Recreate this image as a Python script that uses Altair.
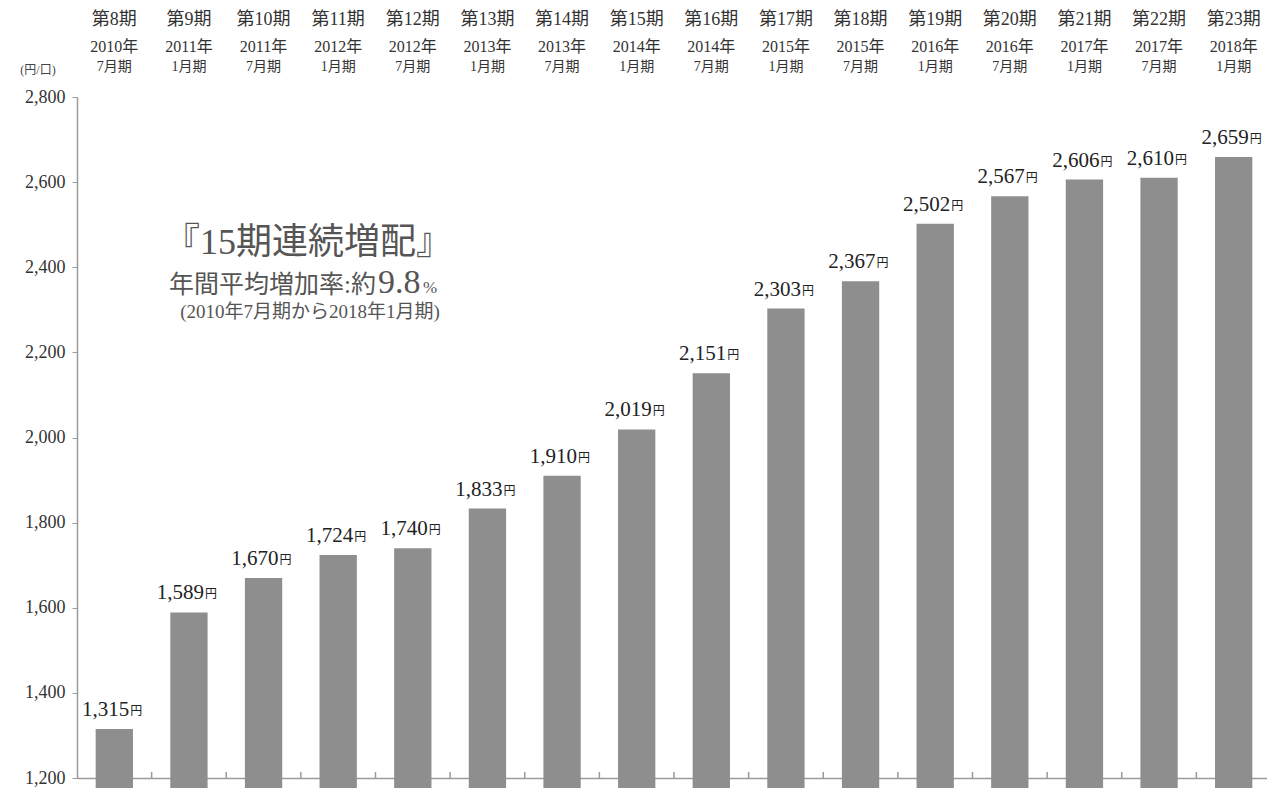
import altair as alt
import pandas as pd

periods = ["第8期", "第9期", "第10期", "第11期", "第12期", "第13期", "第14期", "第15期",
           "第16期", "第17期", "第18期", "第19期", "第20期", "第21期", "第22期", "第23期"]
years = ["2010年", "2011年", "2011年", "2012年", "2012年", "2013年", "2013年", "2014年",
         "2014年", "2015年", "2015年", "2016年", "2016年", "2017年", "2017年", "2018年"]
months = ["7月期", "1月期", "7月期", "1月期", "7月期", "1月期", "7月期", "1月期",
          "7月期", "1月期", "7月期", "1月期", "7月期", "1月期", "7月期", "1月期"]
values = [1315, 1589, 1670, 1724, 1740, 1833, 1910, 2019,
          2151, 2303, 2367, 2502, 2567, 2606, 2610, 2659]
y_ticks = [1200, 1400, 1600, 1800, 2000, 2200, 2400, 2600, 2800]

df = pd.DataFrame({
    "period": periods,
    "year": years,
    "month": months,
    "value": values,
    "label": [f"{v:,}" for v in values],
})

SERIF = "'Liberation Serif', 'Noto Sans CJK JP', serif"
LAT = "'Liberation Serif', serif"
W, H = 1190, 681
RANGE_W = 1194
STEP = RANGE_W / 16.0

xenc = alt.X("period:N", sort=periods,
             scale=alt.Scale(range=[0, RANGE_W], paddingInner=0.5, paddingOuter=0.25),
             axis=alt.Axis(labels=False, ticks=False, title=None, domainColor="#9a9a9a",
                           domainWidth=1.5))
yscale = alt.Scale(domain=[1200, 2800], nice=False, zero=False)

base = alt.Chart(df)

bars = base.mark_bar(color="#8e8e8e").encode(
    x=xenc,
    y=alt.Y("value:Q", scale=yscale,
            axis=alt.Axis(values=y_ticks, format=",.0f", title=None, grid=False,
                          labelFont=LAT, labelFontSize=18,
                          labelColor="#333333", labelPadding=7, tickSize=5,
                          tickColor="#9a9a9a", domainColor="#9a9a9a", domainWidth=1.5)),
)

val_num = base.mark_text(font=LAT, fontSize=21, color="#222222",
                         align="right", baseline="bottom", dx=15, dy=-9).encode(
    x=alt.X("period:N", sort=periods), y=alt.Y("value:Q"), text="label:N")
val_yen = base.mark_text(font="'Noto Sans CJK JP'", fontSize=12, color="#222222",
                         align="left", baseline="bottom", dx=16, dy=-11).encode(
    x=alt.X("period:N", sort=periods), y=alt.Y("value:Q"), text=alt.value("円"))

hdr1 = base.mark_text(font=SERIF, fontSize=18, color="#333333", baseline="middle").encode(
    x=alt.X("period:N", sort=periods), y=alt.value(-77), text="period:N")
hdr2 = base.mark_text(font=SERIF, fontSize=16, color="#333333", baseline="middle").encode(
    x=alt.X("period:N", sort=periods), y=alt.value(-50), text="year:N")
hdr3 = base.mark_text(font=SERIF, fontSize=14, color="#333333", baseline="middle").encode(
    x=alt.X("period:N", sort=periods), y=alt.value(-30), text="month:N")

unit = alt.Chart(pd.DataFrame({"t": ["(円/口)"]})).mark_text(
    font=SERIF, fontSize=12, color="#444444", baseline="middle").encode(
    x=alt.value(-39), y=alt.value(-27), text="t:N")

bottom_ticks = alt.Chart(pd.DataFrame({"period": periods[:-1]})).mark_rule(
    color="#9a9a9a", strokeWidth=1.5, xOffset=STEP / 2).encode(
    x=alt.X("period:N", sort=periods), y=alt.value(H), y2=alt.value(H - 6))

ann_df = pd.DataFrame({"a": ["『15期連続増配』"], "b": ["年間平均増加率:約"], "c": ["9.8"],
                       "d": ["%"], "e": ["(2010年7月期から2018年1月期)"]})
ann = alt.Chart(ann_df)
a1 = ann.mark_text(font=SERIF, fontSize=36, color="#555555", baseline="middle").encode(
    x=alt.value(231), y=alt.value(146), text="a:N")
a2 = ann.mark_text(font=SERIF, fontSize=25, color="#555555", baseline="alphabetic",
                   align="right").encode(x=alt.value(299), y=alt.value(196), text="b:N")
a3 = ann.mark_text(font=LAT, fontSize=34, color="#555555", baseline="alphabetic",
                   align="left").encode(x=alt.value(301), y=alt.value(196), text="c:N")
a4 = ann.mark_text(font=LAT, fontSize=17, color="#555555", baseline="alphabetic",
                   align="left").encode(x=alt.value(346), y=alt.value(196), text="d:N")
a5 = ann.mark_text(font=SERIF, fontSize=19, color="#555555", baseline="middle").encode(
    x=alt.value(233), y=alt.value(215), text="e:N")

chart = alt.layer(bars, bottom_ticks, val_num, val_yen, hdr1, hdr2, hdr3, unit,
                  a1, a2, a3, a4, a5).properties(
    width=W, height=H,
    autosize=alt.AutoSizeParams(type="none"),
    padding={"left": 69, "top": 89, "right": 0, "bottom": 10},
    background="white",
).configure_view(stroke=None)

chart.save("out.html", embed_options={"renderer": "svg", "actions": False})
